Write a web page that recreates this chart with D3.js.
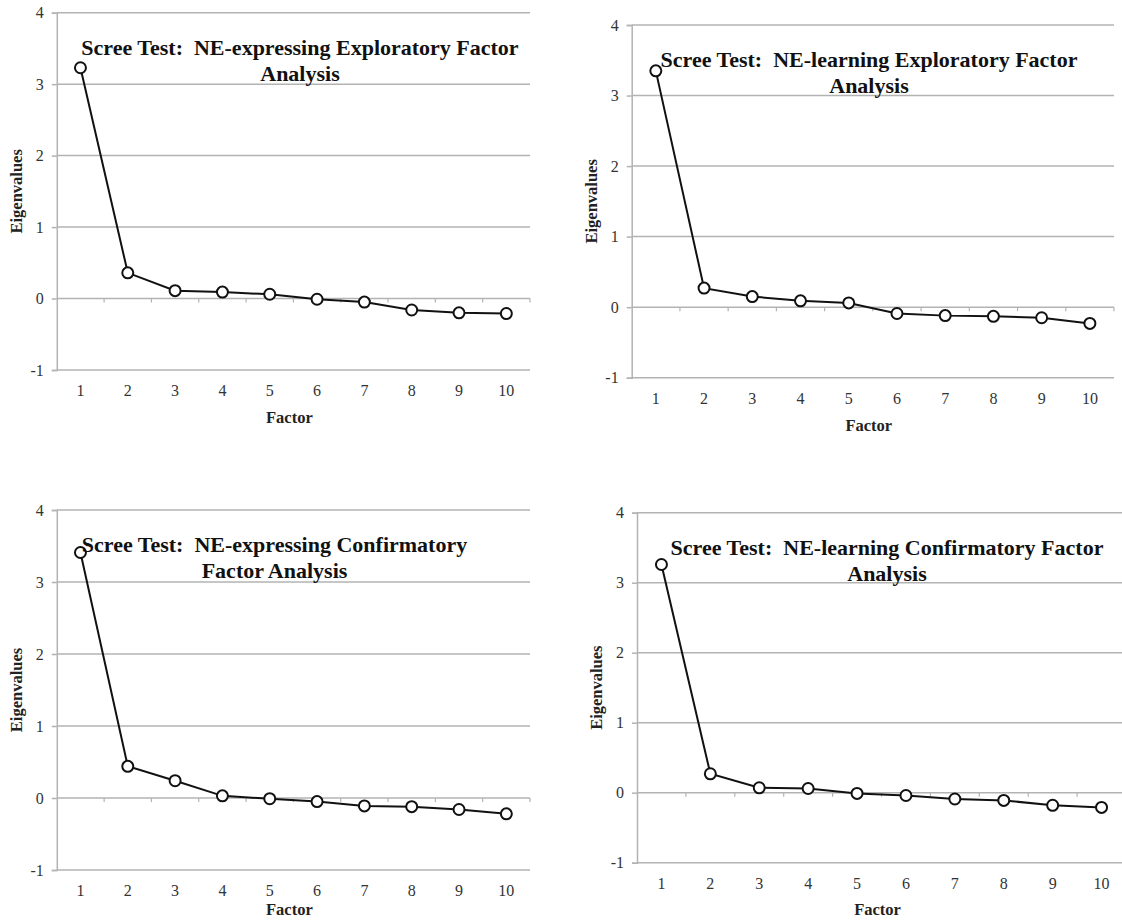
<!DOCTYPE html>
<html>
<head>
<meta charset="utf-8">
<script src="https://cdn.jsdelivr.net/npm/d3@7/dist/d3.min.js"></script>
<style>
  html, body { margin: 0; padding: 0; background: #fff; }
  svg { display: block; }
</style>
</head>
<body>
<svg id="chart"></svg>
<script>
// Data
const factors = [1, 2, 3, 4, 5, 6, 7, 8, 9, 10];
const yTicks = [-1, 0, 1, 2, 3, 4];

const expressingEFA = [3.23, 0.36, 0.11, 0.09, 0.06, -0.01, -0.05, -0.16, -0.20, -0.21];
const learningEFA   = [3.35, 0.27, 0.15, 0.09, 0.06, -0.09, -0.12, -0.13, -0.15, -0.23];
const expressingCFA = [3.41, 0.44, 0.24, 0.03, -0.01, -0.05, -0.11, -0.12, -0.16, -0.22];
const learningCFA   = [3.26, 0.27, 0.07, 0.06, -0.01, -0.04, -0.09, -0.11, -0.18, -0.21];

const titleExpressingEFA = ['Scree Test:\u00a0\u00a0NE-expressing Exploratory Factor', 'Analysis'];
const titleLearningEFA   = ['Scree Test:\u00a0\u00a0NE-learning Exploratory Factor', 'Analysis'];
const titleExpressingCFA = ['Scree Test:\u00a0\u00a0NE-expressing Confirmatory', 'Factor Analysis'];
const titleLearningCFA   = ['Scree Test:\u00a0\u00a0NE-learning Confirmatory Factor', 'Analysis'];

// Layout of each panel (plot box in page pixels, title centre)
const panels = [
  { values: expressingEFA, title: titleExpressingEFA, left: 56.8, right: 530, top: 12.7, bottom: 370, titleX: 300 },
  { values: learningEFA,   title: titleLearningEFA,   left: 631.7, right: 1114, top: 25, bottom: 377.7, titleX: 869 },
  { values: expressingCFA, title: titleExpressingCFA, left: 56.8, right: 530, top: 510, bottom: 870, titleX: 274.5 },
  { values: learningCFA,   title: titleLearningCFA,   left: 637, right: 1126, top: 512.7, bottom: 862.7, titleX: 887 }
];

const width = 1122;
const height = 920;
const serif = '"Liberation Serif", "Times New Roman", Times, serif';
const gridColor = '#b3b3b3';
const labelColor = '#333';

const svg = d3.select('#chart')
  .attr('width', width)
  .attr('height', height)
  .attr('viewBox', `0 0 ${width} ${height}`);

panels.forEach(p => {
  const x = d3.scaleBand()
    .domain(factors)
    .range([p.left, p.right])
    .padding(0);

  const y = d3.scaleLinear()
    .domain([-1, 4])
    .range([p.bottom, p.top]);

  const g = svg.append('g');

  // Horizontal gridlines
  g.selectAll('.grid')
    .data(yTicks)
    .join('line')
    .attr('class', 'grid')
    .attr('x1', p.left)
    .attr('x2', p.right)
    .attr('y1', d => y(d))
    .attr('y2', d => y(d))
    .attr('stroke', gridColor)
    .attr('stroke-width', 1.5);

  // Y axis with ticks to the left
  const yAxis = g.append('g')
    .attr('transform', `translate(${p.left},0)`)
    .call(d3.axisLeft(y).tickValues(yTicks).tickSize(5).tickPadding(8).tickFormat(d3.format('d')));
  yAxis.select('.domain').attr('stroke', gridColor).attr('stroke-width', 1.5);
  yAxis.selectAll('.tick line').attr('stroke', gridColor).attr('stroke-width', 1.5);
  yAxis.selectAll('text')
    .attr('font-family', serif)
    .attr('font-size', '16px')
    .attr('fill', labelColor)
    .text(d => d < 0 ? '-' + Math.abs(d) : d);

  // Category boundary tick marks on the zero line
  const bounds = factors.slice(1).map(f => x(f));
  bounds.push(p.right);
  g.selectAll('.xtick')
    .data(bounds)
    .join('line')
    .attr('class', 'xtick')
    .attr('x1', d => d)
    .attr('x2', d => d)
    .attr('y1', y(0))
    .attr('y2', y(0) + 4)
    .attr('stroke', gridColor)
    .attr('stroke-width', 1.2);

  // Category labels under the plot
  g.selectAll('.xlabel')
    .data(factors)
    .join('text')
    .attr('class', 'xlabel')
    .attr('x', d => x(d) + x.bandwidth() / 2)
    .attr('y', p.bottom + 26)
    .attr('text-anchor', 'middle')
    .attr('font-family', serif)
    .attr('font-size', '16px')
    .attr('fill', labelColor)
    .text(d => d);

  // Axis titles
  g.append('text')
    .attr('x', (p.left + p.right) / 2 - 4)
    .attr('y', Math.min(p.bottom + 53, height - 5))
    .attr('text-anchor', 'middle')
    .attr('font-family', serif)
    .attr('font-size', '16.5px')
    .attr('font-weight', 'bold')
    .attr('fill', '#222')
    .text('Factor');

  g.append('text')
    .attr('transform', `translate(${p.left - 35},${(p.top + p.bottom) / 2}) rotate(-90)`)
    .attr('text-anchor', 'middle')
    .attr('font-family', serif)
    .attr('font-size', '16.5px')
    .attr('font-weight', 'bold')
    .attr('fill', '#222')
    .text('Eigenvalues');

  // Scree line
  const pts = factors.map((f, i) => ({ f, v: p.values[i] }));
  const line = d3.line()
    .x(d => x(d.f) + x.bandwidth() / 2)
    .y(d => y(d.v));

  g.append('path')
    .datum(pts)
    .attr('d', line)
    .attr('fill', 'none')
    .attr('stroke', '#111')
    .attr('stroke-width', 2);

  g.selectAll('.marker')
    .data(pts)
    .join('circle')
    .attr('class', 'marker')
    .attr('cx', d => x(d.f) + x.bandwidth() / 2)
    .attr('cy', d => y(d.v))
    .attr('r', 5.5)
    .attr('fill', '#fff')
    .attr('stroke', '#111')
    .attr('stroke-width', 2);

  // Chart title (two centred lines)
  const title = g.append('text')
    .attr('text-anchor', 'middle')
    .attr('font-family', serif)
    .attr('font-size', '22px')
    .attr('font-weight', 'bold')
    .attr('fill', '#111');
  p.title.forEach((t, i) => {
    title.append('tspan')
      .attr('x', p.titleX)
      .attr('y', p.top + 42 + i * 26)
      .text(t);
  });
});
</script>
</body>
</html>
